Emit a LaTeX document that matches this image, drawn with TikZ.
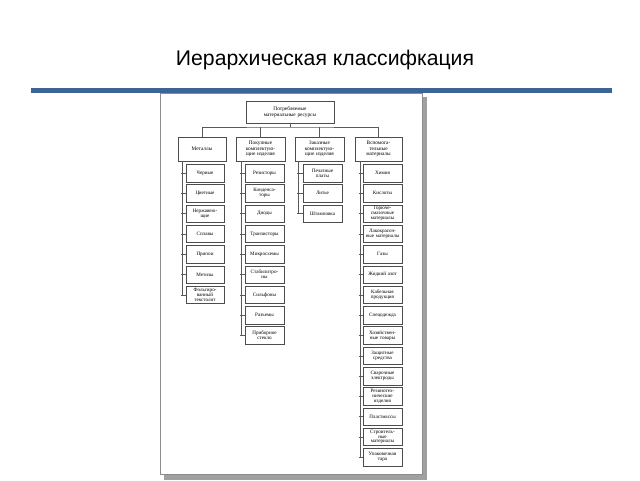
\documentclass[tikz,border=0pt]{standalone}
\usepackage{fontspec}
\setmainfont{Liberation Serif}
\newfontfamily\titlefont{Liberation Sans}
\definecolor{barblue}{RGB}{62,100,150}
\definecolor{shadowgray}{RGB}{160,160,160}
\tikzset{
  box/.style={draw=black!70, line width=0.4pt, fill=white, align=center,
    font=\fontsize{5.3}{5.4}\selectfont, inner sep=0pt},
  leafbox/.style={box, minimum height=17.5pt, font=\fontsize{5.1}{4.9}\selectfont},
  link/.style={draw=black!65, line width=0.4pt}
}
\begin{document}
\begin{tikzpicture}[x=1pt,y=-1pt]
\useasboundingbox (0,0) rectangle (640,480);
% title
\node[font=\titlefont\fontsize{21.2}{23}\selectfont] (title) at (325,60) {Иерархическая классифкация};
\fill[barblue] (31,88) rectangle (612,93);
% page with shadow
\fill[shadowgray] (164,97) rectangle (427,480);
\draw[fill=white, draw=black!45, line width=0.4pt] (160,93) rectangle (422,474);
% top
\node[box, minimum width=88pt, minimum height=22pt, text width=86pt] (top) at (290,112) {Потребляемые\\материальные ресурсы};
% level 2
\node[box, minimum width=48pt, minimum height=24pt, text width=46pt] (m) at (202,149) {Металлы};
\node[box, minimum width=49pt, minimum height=24pt, text width=47pt] (p) at (260.5,149) {Покупные\\комплектую-\\щие изделия};
\node[box, minimum width=49pt, minimum height=24pt, text width=47pt] (z) at (319.5,149) {Заказные\\комплектую-\\щие изделия};
\node[box, minimum width=47pt, minimum height=24pt, text width=45pt] (v) at (378.5,149) {Вспомога-\\тельные\\материалы};
\coordinate (bus) at (290,127);
\draw[link] (top.south) -- (bus);
\draw[link] (m.north) |- (bus) -| (v.north);
\draw[link] (p.north) -- (p.north |- bus);
\draw[link] (z.north) -- (z.north |- bus);
% column 1
\coordinate (mb) at (182,161);
\foreach \t [count=\i] in {{Черные},{Цветные},{Нержавею-\\щие},{Сплавы},{Припои},{Метизы},{Фольгиро-\\ванный\\текстолит}}{
  \node[leafbox, minimum width=38pt, text width=37pt] (a\i) at (205,{173+20.3*(\i-1)}) {\t};
  \draw[link] (a\i.west) -- ([xshift=-1.5pt]a\i.west -| mb);
}
\draw[link] (mb) |- (a7.west);
% column 2
\coordinate (pb) at (241,161);
\foreach \t [count=\i] in {{Резисторы},{Конденса-\\торы},{Диоды},{Транзисторы},{Микросхемы},{Стабилитро-\\ны},{Сильфоны},{Разъемы},{Приборное\\стекло}}{
  \node[leafbox, minimum width=39pt, text width=38pt] (b\i) at (264.5,{173+20.3*(\i-1)}) {\t};
  \draw[link] (b\i.west) -- ([xshift=-1.5pt]b\i.west -| pb);
}
\draw[link] (pb) |- (b9.west);
% column 3
\coordinate (zb) at (298,161);
\foreach \t [count=\i] in {{Печатные\\платы},{Литье},{Штамповка}}{
  \node[leafbox, minimum width=39pt, text width=38pt] (c\i) at (322.5,{173+20.3*(\i-1)}) {\t};
  \draw[link] (c\i.west) -- ([xshift=-1.5pt]c\i.west -| zb);
}
\draw[link] (zb) |- (c3.west);
% column 4
\coordinate (vb) at (360,161);
\foreach \t [count=\i] in {{Химия},{Кислоты},{Горюче-\\смазочные\\материалы},{Лакокрасоч-\\ные материалы},{Газы},{Жидкий азот},{Кабельная\\продукция},{Спецодежда},{Хозяйствен-\\ные товары},{Защитные\\средства},{Сварочные\\электроды},{Резинотех-\\нические\\изделия},{Пластмассы},{Строитель-\\ные\\материалы},{Упаковочная\\тара}}{
  \node[leafbox, minimum width=39pt, text width=38pt] (d\i) at (382.5,{173+20.3*(\i-1)}) {\t};
  \draw[link] (d\i.west) -- ([xshift=-1.5pt]d\i.west -| vb);
}
\draw[link] (vb) |- (d15.west);
\end{tikzpicture}
\end{document}
